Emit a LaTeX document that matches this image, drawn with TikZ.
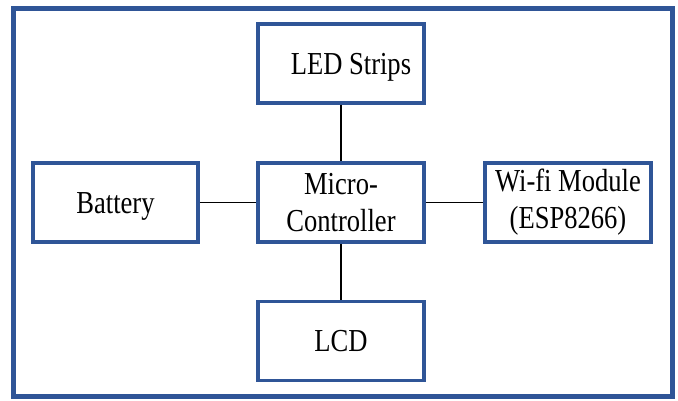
\documentclass[tikz,border=0pt]{standalone}
\usepackage{fontspec}
\newfontfamily\tnr[FakeStretch=0.83]{Liberation Serif}
\definecolor{boxblue}{RGB}{47,85,151}
\newcommand{\lowertext}[1]{\raisebox{-4pt}[\height][\depth]{#1}}
\begin{document}
\begin{tikzpicture}[x=1pt,y=-1pt,
  blk/.style={draw=boxblue, line width=3.5pt, minimum width=166pt, minimum height=79pt,
    inner sep=0pt, align=center, font=\tnr\fontsize{32}{37}\selectfont},
  wire/.style={draw=black, line width=1.2pt}]
\useasboundingbox (0,0) rectangle (678,401);
\fill[white] (0,0) rectangle (678,401);
\draw[boxblue, line width=5pt] (13,9) rectangle (672,396);
\node[blk] (led) at (341,63.5) {\hspace*{20pt}\lowertext{LED Strips}};
\node[blk] (mcu) at (341,202.5) {Micro-\\Controller};
\node[blk, minimum width=165pt] (bat) at (115.5,202.5) {\lowertext{Battery}};
\node[blk] (wifi) at (568,202.5) {Wi-fi Module\\(ESP8266)};
\node[blk] (lcd) at (341,341) {LCD};
\draw[wire] (led) -- (mcu);
\draw[wire] (mcu) -- (lcd);
\draw[wire] (bat) -- (mcu);
\draw[wire] (mcu) -- (wifi);
\end{tikzpicture}
\end{document}
